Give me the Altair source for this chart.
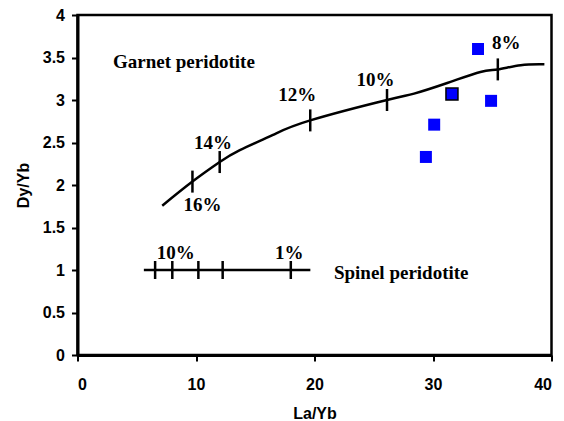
import altair as alt
import pandas as pd

# Garnet peridotite melting curve (La/Yb vs Dy/Yb)
curve_x = [7.15, 9.7, 12.0, 13.7, 16.5, 19.64, 26.12, 28.4, 31.2, 34.0, 35.47, 37.4, 39.4]
curve_y = [1.756, 2.04, 2.27, 2.41, 2.59, 2.76, 3.0, 3.075, 3.2, 3.33, 3.36, 3.41, 3.42]

# Degree-of-melting marks on the garnet curve
garnet_tick_x = [9.7, 12.0, 19.64, 26.12, 35.47]
garnet_tick_y = [2.04, 2.27, 2.76, 3.0, 3.36]
garnet_labels = ["16%", "14%", "12%", "10%", "8%"]
garnet_label_x = [10.54, 11.43, 18.55, 25.15, 36.19]
garnet_label_y = [1.765, 2.495, 3.055, 3.23, 3.67]

# Spinel peridotite melting line
spinel_x = [5.6, 19.65]
spinel_y = [1.0, 1.0]
spinel_tick_x = [6.55, 8.0, 10.2, 12.25, 18.0]
spinel_labels = ["10%", "1%"]
spinel_label_x = [8.3, 17.87]
spinel_label_y = [1.2, 1.2]

# Field names
field_names = ["Garnet peridotite", "Spinel peridotite"]
field_x = [8.98, 27.32]
field_y = [3.446, 0.966]

# Samples
sample_x = [33.8, 31.6, 34.9, 30.1, 29.4]
sample_y = [3.60, 3.07, 2.99, 2.71, 2.33]
sample_outlined = [False, True, False, False, False]

curve_df = pd.DataFrame({"x": curve_x, "y": curve_y})
gtick_df = pd.DataFrame({"x": garnet_tick_x, "y": garnet_tick_y})
glab_df = pd.DataFrame({"x": garnet_label_x, "y": garnet_label_y, "t": garnet_labels})
spinel_df = pd.DataFrame({"x": spinel_x, "y": spinel_y})
stick_df = pd.DataFrame({"x": spinel_tick_x, "y": [1.0] * len(spinel_tick_x)})
slab_df = pd.DataFrame({"x": spinel_label_x, "y": spinel_label_y, "t": spinel_labels})
field_df = pd.DataFrame({"x": field_x, "y": field_y, "t": field_names})
sample_df = pd.DataFrame({"x": sample_x, "y": sample_y, "outlined": sample_outlined})

xscale = alt.Scale(domain=[0, 40], nice=False, zero=False)
yscale = alt.Scale(domain=[0, 4], nice=False, zero=False)

x_axis = alt.Axis(
    values=[0, 10, 20, 30, 40], format="~g", grid=False,
    title="La/Yb", titleX=237, titleY=58, titleBaseline="middle",
    labelPadding=15, tickSize=6,
)
y_axis = alt.Axis(
    values=[0, 0.5, 1, 1.5, 2, 2.5, 3, 3.5, 4], format="~g", grid=False,
    title="Dy/Yb", titleX=-54, titleY=170, titleAngle=270,
    titleBaseline="middle", titleAlign="center",
    labelPadding=7, tickSize=6,
)

X = alt.X("x:Q", scale=xscale, axis=x_axis)
Y = alt.Y("y:Q", scale=yscale, axis=y_axis)
Xn = alt.X("x:Q", scale=xscale)
Yn = alt.Y("y:Q", scale=yscale)

serif = dict(font="Liberation Serif", fontSize=19, fontWeight="bold", color="black")

curve = alt.Chart(curve_df).mark_line(
    color="black", strokeWidth=2.5, interpolate="natural"
).encode(x=X, y=Y, order=alt.Order("x:Q"))

garnet_ticks = alt.Chart(gtick_df).mark_tick(
    orient="vertical", size=22, thickness=2.5, color="black", opacity=1
).encode(x=Xn, y=Yn)

garnet_text = alt.Chart(glab_df).mark_text(**serif).encode(x=Xn, y=Yn, text="t:N")

spinel = alt.Chart(spinel_df).mark_line(color="black", strokeWidth=2.5).encode(x=Xn, y=Yn)

spinel_ticks = alt.Chart(stick_df).mark_tick(
    orient="vertical", size=18, thickness=2.5, color="black", opacity=1
).encode(x=Xn, y=Yn)

spinel_text = alt.Chart(slab_df).mark_text(**serif).encode(x=Xn, y=Yn, text="t:N")

fields = alt.Chart(field_df).mark_text(**serif).encode(x=Xn, y=Yn, text="t:N")

samples = alt.Chart(sample_df).mark_square(
    size=144, opacity=1, fill="#0000FF"
).encode(
    x=Xn, y=Yn,
    stroke=alt.condition("datum.outlined", alt.value("black"), alt.value("#0000FF")),
    strokeWidth=alt.condition("datum.outlined", alt.value(1.5), alt.value(0)),
)

chart = alt.layer(
    curve, garnet_ticks, garnet_text, spinel, spinel_ticks, spinel_text, fields, samples
).properties(
    width=474, height=340,
    autosize=alt.AutoSizeParams(type="none"),
    padding={"left": 77.5, "top": 15, "right": 12.5, "bottom": 66},
    background="white",
).configure_view(
    stroke="black", strokeWidth=2.5,
).configure_axis(
    domainColor="black", domainWidth=3, tickColor="black", tickWidth=2,
    labelFont="Liberation Sans", labelFontSize=16, labelFontWeight="bold", labelColor="black",
    titleFont="Liberation Sans", titleFontSize=16, titleFontWeight="bold", titleColor="black",
)

chart.save("out.html", embed_options={"renderer": "svg", "actions": False})
